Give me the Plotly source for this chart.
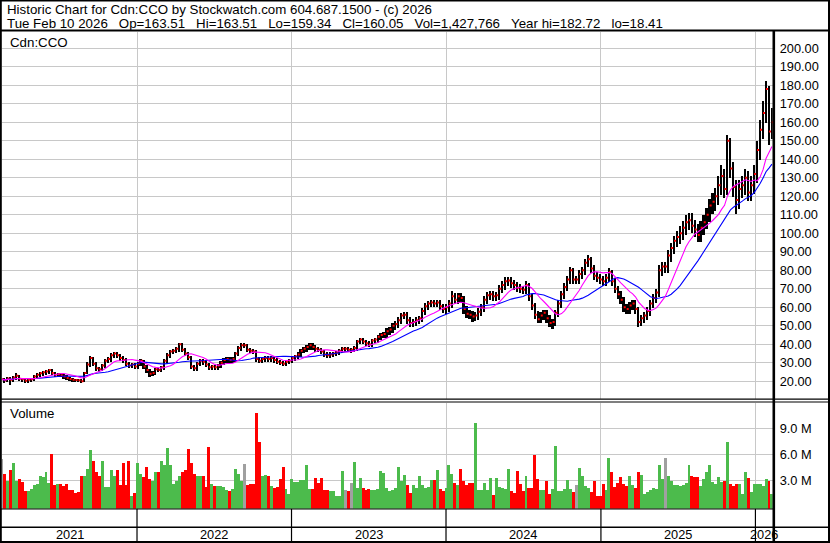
import numpy as np
import pandas as pd
import plotly.graph_objects as go

W, H = 830, 543
NB = "\u00a0"

# ---------------- data (weekly) ----------------
first_week = "2021-02-15"

close = [
    21, 20.5, 21.5, 20.8, 22, 23, 21.3, 21, 20.3, 20.8,
    21, 22.5, 23.5, 24.3, 24.8, 25.3, 26, 24.5, 23.5, 23.8,
    23.2, 22.5, 21.8, 21.2, 20.8, 20.6, 20.5, 20, 24.5, 29,
    32.5, 29.5, 27, 26.5, 28.5, 31, 32, 34, 35, 34,
    32.5, 31.5, 29.5, 28.5, 29, 28, 29.5, 31, 28, 26,
    24, 24.5, 26.5, 26, 27.5, 31, 34, 36, 36.5, 37.5,
    40, 37, 35, 33, 28, 27, 29.5, 31, 30.5, 29,
    27.5, 28, 27.5, 28.5, 30, 31.5, 32, 31.5, 32, 35,
    38, 39.5, 39.5, 37, 36.5, 36, 32, 31, 32, 32.5,
    32, 32.5, 31.5, 30.5, 30, 29.5, 30.5, 31, 32.5, 33.5,
    34.5, 36.5, 37.5, 38.5, 39.5, 38.5, 37.5, 37, 36, 34.5,
    34, 34.5, 35, 35.5, 36.5, 37.5, 37.5, 37, 37, 38,
    41.5, 42.5, 41.5, 40.5, 40, 42, 42.5, 44, 45, 45.5,
    47, 48, 50, 51, 53, 55.5, 56, 53, 51.5, 52,
    53, 54, 58, 60.5, 62, 62.5, 62, 62.5, 60.5, 59,
    60, 62, 66, 64, 66, 65, 59, 56.5, 56, 55,
    55.5, 57.5, 60, 64, 66.5, 67, 66, 66.5, 70, 72,
    74, 74.5, 73, 72, 70.5, 70, 69.5, 72, 66, 61,
    56, 53.5, 55.5, 57, 54, 51.5, 52, 57, 62, 67,
    71, 75, 80, 75, 75, 78, 80, 84, 86, 81,
    77, 76, 75, 74, 76, 79, 74, 70, 67, 64,
    60, 59, 61, 62, 59, 52, 54, 55.5, 58, 62,
    65, 68, 80, 82, 82, 88, 92, 96, 98, 100,
    103, 106, 107, 104, 102, 99, 103, 106, 110, 115,
    117, 120, 126, 131, 124, 150, 135, 125, 118, 124,
    126, 130, 122, 126, 132, 145, 156, 165, 178, 155,
    160.05,
]

high = [
    22.2, 22.0, 22.5, 22.3, 23.0, 24.6, 23.8, 22.2, 21.8, 21.7,
    21.9, 23.4, 24.5, 25.3, 25.8, 26.3, 27.0, 26.8, 25.4, 24.8,
    24.7, 24.0, 23.4, 22.7, 22.1, 21.7, 21.5, 21.4, 25.5, 30.5,
    33.8, 33.2, 30.4, 28.1, 29.6, 32.2, 33.3, 35.3, 36.2, 36.1,
    35.2, 33.7, 32.6, 30.6, 30.1, 30.0, 30.6, 32.3, 32.0, 29.0,
    27.0, 25.6, 27.6, 27.6, 28.7, 32.2, 35.3, 37.3, 37.9, 39.0,
    41.2, 41.0, 38.2, 36.2, 34.0, 29.1, 30.6, 32.3, 32.3, 31.7,
    30.1, 29.1, 29.1, 29.6, 31.1, 32.8, 33.3, 33.2, 33.3, 36.3,
    39.3, 40.9, 40.8, 40.6, 38.2, 37.7, 37.0, 33.2, 33.2, 33.7,
    33.7, 33.7, 33.6, 32.6, 31.6, 31.1, 31.6, 32.2, 33.7, 34.7,
    35.8, 37.8, 38.8, 39.8, 40.8, 40.8, 39.8, 38.8, 38.3, 37.3,
    35.8, 35.8, 36.3, 36.8, 37.8, 38.8, 38.8, 38.8, 38.3, 39.3,
    42.8, 43.8, 43.8, 42.8, 41.8, 43.3, 43.8, 45.4, 46.5, 47.0,
    48.8, 49.8, 51.8, 52.8, 54.8, 57.3, 57.8, 57.5, 54.8, 53.8,
    54.8, 55.8, 59.8, 62.3, 63.8, 64.2, 64.2, 64.2, 64.0, 62.2,
    62.0, 64.2, 69.0, 67.8, 68.2, 68.0, 66.5, 61.0, 58.7, 58.0,
    57.7, 59.7, 62.2, 66.2, 68.7, 69.2, 69.0, 68.7, 72.2, 74.2,
    76.5, 76.7, 76.5, 75.0, 74.0, 72.7, 72.0, 74.5, 73.5, 67.5,
    62.5, 58.0, 57.5, 59.0, 59.0, 56.0, 54.0, 59.0, 64.2, 69.2,
    73.2, 77.2, 82.2, 81.5, 77.2, 80.2, 82.2, 86.2, 88.3, 87.5,
    83.0, 79.2, 78.2, 77.2, 78.2, 81.5, 80.5, 76.0, 72.0, 69.0,
    66.0, 62.2, 63.2, 64.2, 64.0, 60.5, 56.2, 57.7, 60.2, 64.2,
    67.2, 70.2, 83.0, 85.0, 85.0, 91.0, 95.0, 99.0, 101.5, 104.0,
    107.0, 110.0, 111.0, 111.0, 107.5, 105.5, 107.0, 110.0, 114.0, 119.0,
    122.0, 125.0, 131.0, 137.0, 135.0, 153.5, 152.0, 139.0, 129.0, 129.0,
    131.0, 135.0, 134.0, 131.0, 137.0, 150.0, 161.5, 172.0, 182.72, 180.0,
    168.0,
]

low = [
    19.8, 19.5, 19.6, 18.41, 19.9, 21.0, 20.4, 20.0, 19.3, 19.4,
    19.9, 20.2, 21.6, 22.6, 23.3, 23.8, 24.4, 23.6, 22.6, 22.6,
    22.3, 21.6, 20.9, 20.3, 19.9, 19.7, 19.6, 19.2, 19.6, 24.0,
    28.2, 28.4, 25.9, 25.4, 25.6, 27.6, 29.9, 30.9, 32.8, 32.8,
    31.3, 30.3, 28.5, 27.5, 27.5, 27.0, 27.0, 28.5, 26.9, 24.9,
    22.8, 23.0, 23.6, 25.0, 25.0, 26.6, 30.0, 32.8, 34.8, 35.3,
    36.3, 35.8, 33.8, 31.6, 26.8, 25.9, 26.0, 28.5, 29.3, 27.9,
    26.4, 26.4, 26.4, 26.4, 27.5, 28.8, 30.3, 30.3, 30.3, 30.8,
    33.8, 36.8, 38.2, 35.8, 35.3, 34.8, 30.8, 29.9, 29.9, 30.9,
    30.8, 30.8, 30.3, 29.4, 28.9, 28.4, 28.4, 29.4, 29.9, 31.3,
    32.3, 33.3, 35.3, 36.3, 37.3, 37.3, 36.3, 35.8, 34.8, 33.3,
    32.7, 32.7, 33.3, 33.8, 34.3, 35.3, 36.2, 35.8, 35.7, 35.8,
    36.8, 40.2, 40.2, 39.2, 38.7, 38.7, 40.7, 41.2, 42.6, 43.5,
    43.7, 45.2, 46.2, 48.2, 49.2, 51.2, 53.7, 51.2, 49.7, 49.7,
    50.2, 51.2, 52.2, 56.2, 58.7, 60.2, 60.2, 60.2, 58.7, 57.2,
    56.8, 57.8, 60.0, 61.8, 61.8, 62.8, 56.8, 54.3, 53.8, 52.5,
    52.8, 53.3, 55.3, 57.8, 61.8, 64.3, 63.8, 63.8, 64.3, 67.8,
    69.8, 71.8, 70.8, 69.8, 68.3, 67.8, 67.3, 67.3, 63.8, 58.8,
    53.8, 51.5, 51.5, 53.5, 52.0, 49.5, 48.5, 50.0, 55.0, 59.8,
    64.8, 68.8, 72.8, 72.8, 72.8, 72.8, 75.8, 77.8, 81.8, 78.8,
    74.8, 73.8, 72.8, 71.8, 71.8, 73.8, 71.8, 67.8, 64.8, 61.8,
    57.8, 56.8, 56.8, 58.8, 56.8, 49.6, 50.0, 51.8, 53.3, 55.8,
    59.8, 62.8, 66.0, 77.0, 79.0, 79.0, 85.0, 89.0, 93.0, 94.5,
    96.5, 99.5, 102.0, 100.5, 98.5, 95.5, 95.5, 99.5, 102.5, 106.5,
    110.5, 112.5, 115.5, 121.0, 119.5, 121.0, 130.0, 120.0, 110.6, 113.5,
    119.5, 121.0, 117.5, 117.5, 121.5, 127.5, 140.0, 151.0, 160.0, 148.0,
    151.0,
]

volume_m = [
    5.5, 3.8, 3.0, 4.3, 5.0, 3.0, 3.2, 2.9, 1.8, 1.8,
    2.0, 2.5, 2.6, 3.6, 3.4, 4.0, 2.8, 6.1, 2.5, 2.6,
    2.6, 2.4, 2.6, 1.9, 1.9, 1.6, 1.7, 3.6, 3.6, 4.4,
    6.5, 5.3, 4.0, 3.6, 5.3, 2.3, 2.3, 4.2, 3.6, 4.2,
    2.5, 5.1, 2.5, 5.3, 1.2, 1.6, 5.0, 3.8, 3.4, 4.6,
    3.2, 3.0, 4.0, 4.0, 5.3, 4.8, 6.8, 4.8, 2.6, 3.0,
    3.6, 4.0, 4.2, 6.7, 5.1, 3.8, 3.6, 3.6, 3.6, 2.3,
    6.9, 2.6, 2.4, 2.4, 2.4, 2.3, 1.9, 1.8, 2.0, 4.4,
    3.8, 3.0, 4.9, 2.5, 2.6, 2.6, 10.8, 7.5, 3.6, 3.7,
    3.6, 2.4, 2.2, 2.3, 3.2, 4.65, 2.0, 1.5, 3.2, 2.9,
    2.9, 3.1, 3.1, 4.8, 2.1, 2.0, 3.3, 2.8, 3.3, 1.9,
    1.9, 1.8, 1.8, 1.3, 1.3, 4.1, 1.9, 1.8, 2.7, 5.2,
    2.2, 3.3, 2.2, 1.9, 2.0, 1.9, 1.9, 2.0, 4.1, 3.9,
    2.2, 1.8, 1.9, 2.2, 4.65, 3.0, 3.7, 2.5, 1.6, 2.5,
    2.2, 3.5, 2.5, 2.2, 2.3, 3.1, 3.1, 4.2, 2.0, 1.8,
    2.2, 4.8, 3.8, 2.8, 2.5, 4.4, 3.0, 2.5, 2.8, 2.7,
    9.7, 1.9, 1.9, 2.8, 1.9, 3.3, 1.4, 3.3, 2.3, 2.2,
    2.0, 4.4, 1.8, 1.6, 4.1, 2.6, 1.8, 3.5, 2.2, 2.2,
    6.0, 3.2, 1.9, 1.9, 3.0, 1.5, 2.0, 7.0, 1.8, 1.8,
    2.0, 3.1, 2.1, 1.7, 2.5, 4.45, 3.6, 2.4, 2.2, 1.7,
    3.0, 1.3, 1.2, 2.6, 1.9, 5.6, 4.0, 2.3, 2.8, 3.4,
    2.6, 2.4, 3.6, 2.5, 2.2, 4.0, 3.7, 1.5, 1.7, 1.9,
    2.2, 2.1, 4.8, 3.2, 5.6, 3.6, 3.0, 2.5, 2.5, 2.4,
    2.5, 2.8, 4.8, 3.6, 3.4, 3.4, 2.4, 3.2, 4.0, 4.8,
    2.9, 2.6, 3.4, 2.9, 3.0, 7.5, 2.6, 2.4, 2.6, 2.6,
    1.5, 4.0, 3.3, 1.7, 2.6, 2.65, 2.6, 2.4, 3.2, 3.0,
    1.43,
]

year_labels = ["2021", "2022", "2023", "2024", "2025", "2026"]
price_ticks = list(range(20, 201, 10))
volume_ticks_m = [3, 6, 9]

header_1 = "Historic Chart for Cdn:CCO by Stockwatch.com 604.687.1500 - (c) 2026"
header_2_items = ["Tue Feb 10 2026", "Op=163.51", "Hi=163.51", "Lo=159.34",
                  "Cl=160.05", "Vol=1,427,766", "Year hi=182.72", "lo=18.41"]

# ---------------- layout helpers ----------------
FONT = "Liberation Sans, Arial, sans-serif"
GRID = "#c8c8c8"
GREEN = "#4cbb4c"
RED = "#ff0000"


def fx(px):
    return px / W


def fy(py):
    return 1 - py / H


x_left_px, x_right_px = 2.0, 772.7
price_top_px, price_bot_px = 31.5, 398.5
vol_top_px, vol_bot_px = 402.5, 508.7

x_range = [pd.Timestamp("2021-02-16 01:00"), pd.Timestamp("2026-02-10 19:00")]
price_range = [10.65, 209.1]
vol_range = [-0.277, 11.98]

dates = pd.date_range(first_week, periods=len(close), freq="7D")
cs = pd.Series(close, index=dates)
ma_fast = cs.rolling(10, min_periods=1).mean()
ma_slow = cs.rolling(20, min_periods=1).mean()

chg = np.diff(np.array(close), prepend=close[0])
vol_colors = [GREEN if c > 0 else (RED if c < 0 else "#a0a0a0") for c in chg]

DAY_MS = 86400000

fig = go.Figure()

# high-low bars
fig.add_trace(go.Bar(
    x=dates, base=low, y=np.array(high) - np.array(low),
    width=4.0 * DAY_MS, marker=dict(color="black", line=dict(width=0)),
    xaxis="x", yaxis="y", hoverinfo="skip"))

# close ticks
fig.add_trace(go.Scatter(
    x=dates + pd.Timedelta(days=2.2), y=close, mode="markers",
    marker=dict(symbol="square", size=2.0, color=RED, line=dict(width=0)),
    xaxis="x", yaxis="y", hoverinfo="skip"))

# moving averages
fig.add_trace(go.Scatter(x=dates, y=ma_slow, mode="lines",
                         line=dict(color="#0000ff", width=1.1),
                         xaxis="x", yaxis="y", hoverinfo="skip"))
fig.add_trace(go.Scatter(x=dates, y=ma_fast, mode="lines",
                         line=dict(color="#ff00ff", width=1.1),
                         xaxis="x", yaxis="y", hoverinfo="skip"))

# volume
fig.add_trace(go.Bar(
    x=dates, base=vol_range[0], y=np.array(volume_m) - vol_range[0],
    width=7 * DAY_MS, marker=dict(color=vol_colors, line=dict(width=0)),
    xaxis="x2", yaxis="y2", hoverinfo="skip"))

year_bounds = [pd.Timestamp(f"{y}-01-01") for y in range(2022, 2027)]

xaxis_common = dict(
    type="date", range=x_range, domain=[fx(x_left_px), fx(x_right_px)],
    tickvals=year_bounds, showticklabels=False, ticks="",
    showgrid=True, gridcolor=GRID, gridwidth=1, zeroline=False, showline=False,
    fixedrange=True,
)

fig.update_layout(
    width=W, height=H,
    margin=dict(l=0, r=0, t=0, b=0, autoexpand=False),
    paper_bgcolor="white", plot_bgcolor="white",
    showlegend=False, barmode="overlay", bargap=0, hovermode=False,
    font=dict(family=FONT, size=13, color="black"),
    xaxis=dict(**xaxis_common, anchor="y"),
    xaxis2=dict(**xaxis_common, anchor="y2", matches="x"),
    yaxis=dict(
        domain=[fy(price_bot_px), fy(price_top_px)], range=price_range,
        side="right", tickvals=price_ticks,
        ticktext=[f"{v:.2f}" for v in price_ticks],
        ticks="", ticklabelstandoff=6, showgrid=True, gridcolor=GRID,
        zeroline=False, showline=False, anchor="x",
        tickfont=dict(family=FONT, size=12.8, color="black"), fixedrange=True),
    yaxis2=dict(
        domain=[fy(vol_bot_px), fy(vol_top_px)], range=vol_range,
        side="right", tickvals=volume_ticks_m,
        ticktext=[f"{v:.1f} M" for v in volume_ticks_m],
        ticks="", ticklabelstandoff=6, showgrid=True, gridcolor=GRID,
        zeroline=False, showline=False, anchor="x2",
        tickfont=dict(family=FONT, size=12.8, color="black"), fixedrange=True),
)

# ---------------- frame lines ----------------
shapes = []


def hline(y, x0=0, x1=W, w=1.0):
    shapes.append(dict(type="line", xref="paper", yref="paper",
                       x0=fx(x0), x1=fx(x1), y0=fy(y), y1=fy(y),
                       line=dict(color="black", width=w), layer="above"))


def vline(x, y0, y1, w=1.0):
    shapes.append(dict(type="line", xref="paper", yref="paper",
                       x0=fx(x), x1=fx(x), y0=fy(y0), y1=fy(y1),
                       line=dict(color="black", width=w), layer="above"))


hline(30.5, w=2)               # below header
hline(399.2, w=1.2)            # double separator
hline(402.0, w=1.2)
hline(509.0, 0, 774, w=1.2)    # bottom of volume panel
hline(527.2, w=1.5)            # above year labels
vline(773.8, 30.5, H, w=2.6)   # axis separator
# outer border
shapes.append(dict(type="rect", xref="paper", yref="paper", x0=fx(0.8), x1=fx(W - 1.0),
                   y0=fy(H - 1.0), y1=fy(0.5), line=dict(color="black", width=2),
                   layer="above"))
# year dividers in the date strip
for b in year_bounds:
    shapes.append(dict(type="line", xref="x2", yref="paper", x0=b, x1=b,
                       y0=fy(509), y1=fy(H), line=dict(color="black", width=1.2),
                       layer="above"))

annotations = []


def label(text, x, y, size=13, xref="paper", xanchor="left"):
    annotations.append(dict(text=text, xref=xref, yref="paper", x=x, y=fy(y),
                            xanchor=xanchor, yanchor="middle", showarrow=False,
                            font=dict(family=FONT, size=size, color="black")))


label(header_1, fx(5), 9.2, size=13.3)
label((NB * 3).join(header_2_items), fx(5), 23.0, size=13.3)
label("Cdn:CCO", fx(8), 42.0, size=13.3)
label("Volume", fx(8), 413.5, size=13.3)

# year labels centred in the visible part of each year
for yl in year_labels:
    y0 = max(pd.Timestamp(f"{yl}-01-01"), x_range[0])
    y1 = min(pd.Timestamp(f"{int(yl) + 1}-01-01"), x_range[1])
    mid = y0 + (y1 - y0) / 2
    label(yl, mid, 534.5, size=12.8, xref="x2", xanchor="center")

fig.update_layout(shapes=shapes, annotations=annotations)

fig.write_html("out.html", config={"displayModeBar": False},
               post_script="document.body.style.margin='0';")
